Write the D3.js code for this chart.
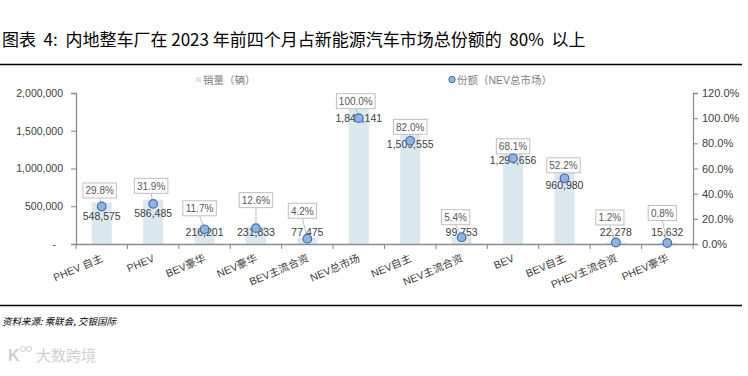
<!DOCTYPE html>
<html>
<head>
<meta charset="utf-8">
<script src="https://cdn.jsdelivr.net/npm/d3@7"></script>
<style>
  body { margin: 0; background: #fff; }
  svg text { font-family: "Liberation Sans", Arial, "Noto Sans CJK SC", sans-serif; }
</style>
</head>
<body>
<svg id="chart" width="748" height="376"></svg>
<script>
// ---- data ----
const categories = ["PHEV 自主", "PHEV", "BEV豪华", "NEV豪华", "BEV主流合资", "NEV总市场",
                    "NEV自主", "NEV主流合资", "BEV", "BEV自主", "PHEV主流合资", "PHEV豪华"];
const sales = [548575, 586485, 216201, 231833, 77475, 1841141,
               1509555, 99753, 1294656, 960980, 22278, 15632];
const shares = [29.8, 31.9, 11.7, 12.6, 4.2, 100.0, 82.0, 5.4, 68.1, 52.2, 1.2, 0.8];
const leftTicks = [0, 500000, 1000000, 1500000, 2000000];
const rightTicks = [0, 20, 40, 60, 80, 100, 120];

// callout placement (px above the point, px shift left), as laid out by hand in the original
const calloutLift = [16, 18, 21, 28, 28, 17, 14, 20, 12, 13, 25, 30];
const calloutShift = [2, 2, 5, 0, 5, 3, 0, 6, 0, 1, 6, 5];

const svg = d3.select("#chart");
const W = 748;
const x0 = 76, x1 = 693;
const y0 = 244, y1 = 93;

const x = d3.scaleBand().domain(categories).range([x0, x1]).padding(0);
const yL = d3.scaleLinear().domain([0, 2000000]).range([y0, y1]);
const yR = d3.scaleLinear().domain([0, 120]).range([y0, y1]);
const barW = x.bandwidth() * 0.39;
const axisColor = "#8c8c8c";
const textColor = "#404040";

// title and rules
svg.append("text").attr("x", 2).attr("y", 46)
   .style("font-family", "'Noto Sans CJK SC', sans-serif").style("font-size", "17px").attr("fill", "#000")
   .attr("xml:space", "preserve")
   .text("图表  4:  内地整车厂在 2023 年前四个月占新能源汽车市场总份额的  80%  以上");
svg.append("line").attr("x1", 0).attr("x2", 742).attr("y1", 64.5).attr("y2", 64.5)
   .attr("stroke", "#000").attr("stroke-width", 1.5);
svg.append("line").attr("x1", 0).attr("x2", 742).attr("y1", 305.5).attr("y2", 305.5)
   .attr("stroke", "#000").attr("stroke-width", 1.5);
svg.append("text").attr("x", 2).attr("y", 325)
   .style("font-family", "'Noto Sans CJK SC', sans-serif").style("font-size", "9.5px")
   .style("font-style", "italic").attr("fill", "#000")
   .text("资料来源: 乘联会, 交银国际");

// watermark
const wm = svg.append("g").attr("fill", "#d0d0d0").attr("stroke", "#d0d0d0");
wm.append("text").attr("x", 8).attr("y", 361).attr("stroke", "none")
  .style("font-size", "16px").style("font-weight", "bold").text("K");
wm.append("circle").attr("cx", 23).attr("cy", 349).attr("r", 2.5).attr("fill", "none");
wm.append("circle").attr("cx", 29).attr("cy", 349).attr("r", 2.5).attr("fill", "none");
wm.append("text").attr("x", 36).attr("y", 361).attr("stroke", "none")
  .style("font-family", "'Noto Sans CJK SC', sans-serif").style("font-size", "15px")
  .text("大数跨境");

// legend
const legend = svg.append("g").style("font-family", "'Noto Sans CJK SC', sans-serif")
   .style("font-size", "10.5px").attr("fill", "#7f7f7f");
legend.append("rect").attr("x", 196).attr("y", 77).attr("width", 5).attr("height", 5).attr("fill", "#dbe9ef");
legend.append("text").attr("x", 203).attr("y", 84).text("销量（辆）");
legend.append("circle").attr("cx", 452).attr("cy", 79.5).attr("r", 3.2)
   .attr("fill", "#8fb4e3").attr("stroke", "#3f6fb5").attr("stroke-width", 1);
legend.append("text").attr("x", 457).attr("y", 84).text("份额（NEV总市场）");

// bars
svg.append("g").selectAll("rect").data(categories).join("rect")
   .attr("x", (d) => x(d) + (x.bandwidth() - barW) / 2)
   .attr("y", (d, i) => yL(sales[i]))
   .attr("width", barW)
   .attr("height", (d, i) => y0 - yL(sales[i]))
   .attr("fill", "#dbe9ef");

// axes
const axL = svg.append("g").attr("transform", `translate(${x0},0)`)
   .call(d3.axisLeft(yL).tickValues(leftTicks).tickSize(5).tickPadding(8)
         .tickFormat((d) => d === 0 ? "-" : d3.format(",")(d)));
axL.selectAll(".tick text").filter((d) => d === 0).attr("dx", -7);
const axR = svg.append("g").attr("transform", `translate(${x1},0)`)
   .call(d3.axisRight(yR).tickValues(rightTicks).tickSize(5).tickPadding(4)
         .tickFormat((d) => d.toFixed(1) + "%"));
const axB = svg.append("g").attr("transform", `translate(0,${y0})`)
   .call(d3.axisBottom(x).tickSize(0).tickFormat(""));
axB.selectAll(".tick").remove();
axB.selectAll("line.edge").data(d3.range(categories.length + 1)).join("line")
   .attr("class", "edge")
   .attr("x1", (i) => x0 + i * x.step()).attr("x2", (i) => x0 + i * x.step())
   .attr("y1", 0).attr("y2", 5);
[axL, axR, axB].forEach((g) => {
  g.select(".domain").attr("stroke", axisColor).attr("stroke-width", 1.3);
  g.selectAll("line").attr("stroke", axisColor).attr("stroke-width", 1.1);
  g.selectAll("text").attr("fill", textColor);
});
axL.selectAll("text").style("font-size", "10.5px");
axR.selectAll("text").style("font-size", "11px");

// category labels
svg.append("g").selectAll("text").data(categories).join("text")
   .attr("transform", (d) => `translate(${x(d) + x.bandwidth() / 2 + 2},${y0 + 17}) rotate(-23)`)
   .attr("text-anchor", "end")
   .style("font-size", "10.5px").attr("fill", textColor)
   .text((d) => d);

// sales value labels
svg.append("g").selectAll("text").data(categories).join("text")
   .attr("x", (d) => x(d) + x.bandwidth() / 2)
   .attr("y", (d, i) => Math.min(yL(sales[i]) + 13.5, 232) + 4)
   .attr("text-anchor", "middle")
   .style("font-size", "10.5px").attr("fill", textColor)
   .text((d, i) => d3.format(",")(sales[i]));

// share callouts
const call = svg.append("g").selectAll("g").data(categories).join("g");
call.each(function (d, i) {
  const g = d3.select(this);
  const px = x(d) + x.bandwidth() / 2;
  const py = yR(shares[i]);
  const label = shares[i].toFixed(1) + "%";
  const bw = label.length * 5.3 + 7, bh = 15;
  const bx = px - calloutShift[i], by = py - calloutLift[i];
  g.append("line").attr("x1", bx).attr("y1", by + bh / 2).attr("x2", px).attr("y2", py)
   .attr("stroke", "#bfbfbf").attr("stroke-width", 1);
  g.append("rect").attr("x", bx - bw / 2).attr("y", by - bh / 2).attr("width", bw).attr("height", bh)
   .attr("fill", "#fff").attr("stroke", "#bfbfbf").attr("stroke-width", 1);
  g.append("text").attr("x", bx).attr("y", by + 3.8).attr("text-anchor", "middle")
   .style("font-size", "10px").attr("fill", "#595959").text(label);
});

// share points
svg.append("g").selectAll("circle").data(categories).join("circle")
   .attr("cx", (d) => x(d) + x.bandwidth() / 2)
   .attr("cy", (d, i) => yR(shares[i]))
   .attr("r", 4.3)
   .attr("fill", "#8fb4e3").attr("stroke", "#3f6fb5").attr("stroke-width", 1.2);
</script>
</body>
</html>
